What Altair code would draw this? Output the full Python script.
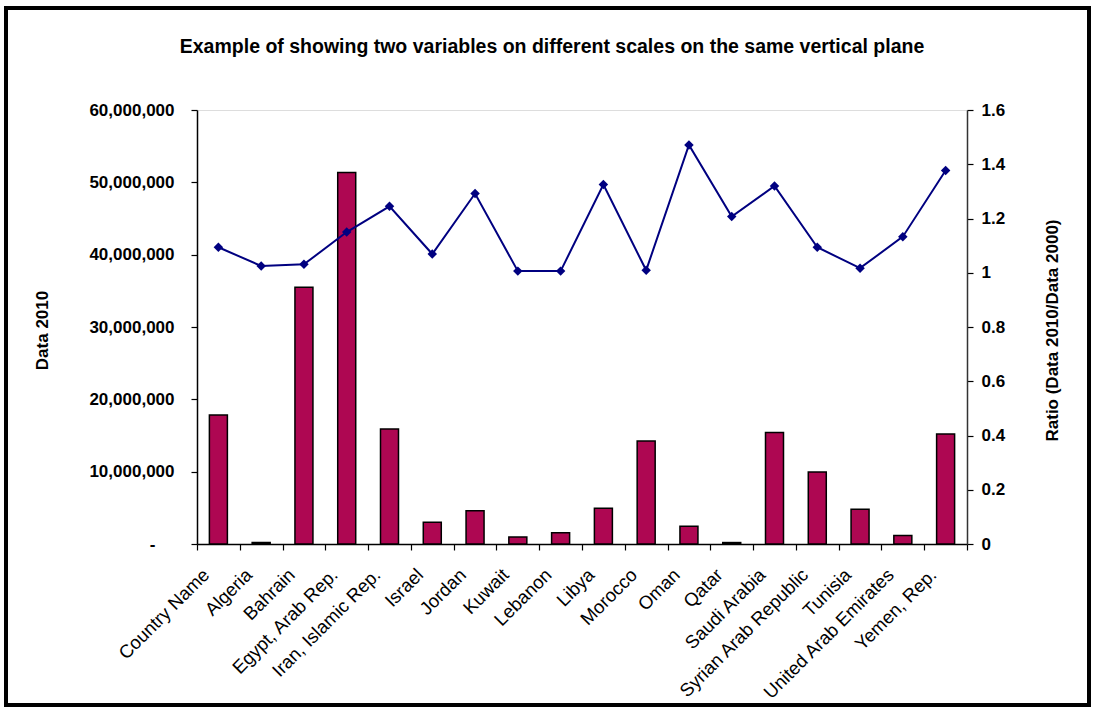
import altair as alt
import pandas as pd

categories = ["Country Name", "Algeria", "Bahrain", "Egypt, Arab Rep.", "Iran, Islamic Rep.",
              "Israel", "Jordan", "Kuwait", "Lebanon", "Libya", "Morocco", "Oman", "Qatar",
              "Saudi Arabia", "Syrian Arab Republic", "Tunisia", "United Arab Emirates", "Yemen, Rep."]
data_2010 = [17830000, 200000, 35500000, 51350000, 15900000, 3000000, 4600000, 970000,
             1570000, 4940000, 14250000, 2450000, 200000, 15400000, 9950000, 4800000,
             1160000, 15200000]
ratio = [1.094, 1.025, 1.031, 1.150, 1.245, 1.069, 1.292, 1.006, 1.006, 1.325, 1.009,
         1.471, 1.207, 1.320, 1.094, 1.017, 1.133, 1.377]
left_ticks = [0, 10000000, 20000000, 30000000, 40000000, 50000000, 60000000]
right_ticks = [0, 0.2, 0.4, 0.6, 0.8, 1.0, 1.2, 1.4, 1.6]
chart_title = "Example of showing two variables on different scales on the same vertical plane"

df = pd.DataFrame({"country": categories, "data2010": data_2010, "ratio": ratio})

FONT = "Liberation Sans"

x_enc = alt.X(
    "country:N", sort=categories, title=None,
    scale=alt.Scale(paddingInner=0, paddingOuter=0),
    axis=alt.Axis(labelAngle=-45, labelAlign="right", labelBaseline="top",
                  labelFontSize=18.5, labelFont=FONT, labelColor="black",
                  labelOffset=-19, labelPadding=15, labelOverlap=False, labelLimit=400,
                  tickBand="extent", tickSize=6, tickColor="black", domainColor="black",
                  domainWidth=1.5, tickWidth=1.2, grid=False),
)

bars = alt.Chart(df).mark_bar(size=18, color="#AE0752", stroke="black", strokeWidth=1.5).encode(
    x=x_enc,
    y=alt.Y("data2010:Q", scale=alt.Scale(domain=[0, 60000000], nice=False),
            axis=alt.Axis(values=left_ticks, grid=False,
                          labelExpr="datum.value === 0 ? '-' : format(datum.value, ',')",
                          labelFontSize=17, labelFontWeight="bold", labelFont=FONT, labelColor="black",
                          labelPadding={"condition": {"test": "datum.value === 0", "value": 36}, "value": 17},
                          labelOverlap=False, tickSize=6, tickColor="black", domainColor="black",
                          domainWidth=1.5, tickWidth=1.2,
                          title="Data 2010", titleFont=FONT, titleFontSize=17, titleFontWeight="bold",
                          titleColor="black", titleX=-155, titleY=220, titleBaseline="middle",
                          titleAngle=270)),
)

line = alt.Chart(df).mark_line(
    color="#000080", strokeWidth=2,
    point=alt.OverlayMarkDef(shape="diamond", size=90, filled=True, color="#000080"),
).encode(
    x=x_enc,
    y=alt.Y("ratio:Q", scale=alt.Scale(domain=[0, 1.6], nice=False),
            axis=alt.Axis(orient="right", values=right_ticks, format=".1~f", grid=False,
                          labelFontSize=17, labelFontWeight="bold", labelFont=FONT, labelColor="black",
                          labelPadding=8, labelOverlap=False, tickSize=6, tickColor="black",
                          domainColor="#333333", domainWidth=1.5, tickWidth=1.2,
                          title="Ratio (Data 2010/Data 2000)", titleFont=FONT, titleFontSize=17,
                          titleFontWeight="bold", titleColor="black", titleX=85, titleY=220,
                          titleBaseline="middle", titleAngle=270)),
)

deco = alt.Data(values=[{"t": chart_title}])

frame = alt.Chart(deco).mark_rect(
    fillOpacity=0, stroke="black", strokeWidth=4
).encode(
    x=alt.value(-191), x2=alt.value(892), y=alt.value(-102), y2=alt.value(595)
)

title = alt.Chart(deco).mark_text(
    font=FONT, fontSize=19.5, fontWeight="bold", color="black", align="center", baseline="middle"
).encode(text="t:N", x=alt.value(355), y=alt.value(-63))

chart = alt.layer(bars, line, frame, title).resolve_scale(y="independent").properties(
    width=770, height=434,
    autosize=alt.AutoSizeParams(type="none"),
    padding={"left": 197, "top": 110, "right": 127, "bottom": 165},
).configure_view(fill="#C8C8C8", stroke="#808080", strokeWidth=1.5).configure_axis(
    grid=False
).configure(background="white")

chart.save("out.html", embed_options={"renderer": "svg", "actions": False})
